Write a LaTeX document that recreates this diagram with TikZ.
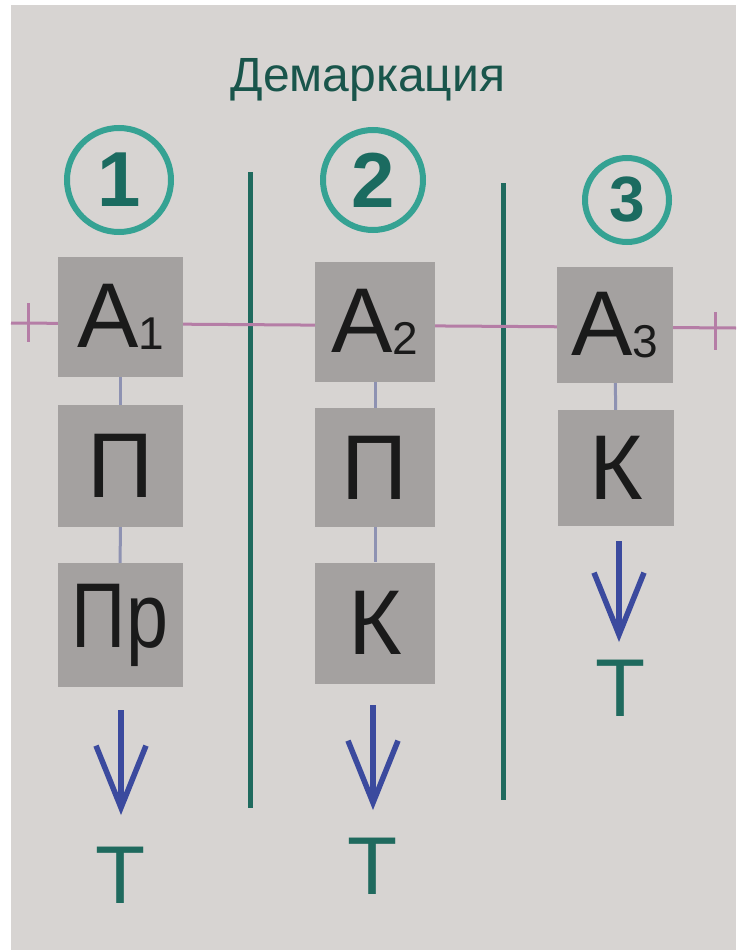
\documentclass[tikz,border=0pt]{standalone}
\usepackage{fontspec}
\setmainfont{Liberation Sans}
\usetikzlibrary{arrows.meta}
\definecolor{paper}{HTML}{D7D4D2}
\definecolor{boxgray}{HTML}{A4A1A0}
\definecolor{teal1}{HTML}{1F6A5E}
\definecolor{tealc}{HTML}{35A293}
\definecolor{tealn}{HTML}{1B6B60}
\definecolor{pinkl}{HTML}{B57DA6}
\definecolor{linkc}{HTML}{8E92B2}
\definecolor{arrowc}{HTML}{3B4A9E}
\definecolor{ink}{HTML}{1A1A1A}
\tikzset{
  letterbox/.style={fill=boxgray, draw=none, inner sep=0pt, text=ink,
    font=\fontsize{92}{92}\selectfont},
  numcircle/.style={circle, draw=tealc, line width=6pt, text=tealn,
    font=\fontsize{78}{78}\selectfont\bfseries, inner sep=0pt},
  divider/.style={draw=teal1, line width=5pt},
  pinkline/.style={draw=pinkl, line width=3pt},
  link/.style={draw=linkc, line width=3pt},
  flow/.style={draw=arrowc, line width=5.5pt, -{Straight Barb[length=62pt, width=50pt, line width=5.5pt]}},
  tlabel/.style={text=teal1, font=\fontsize{82}{82}\selectfont, inner sep=0pt},
}
\begin{document}
\begin{tikzpicture}[x=1pt, y=-1pt]
\useasboundingbox (0,0) rectangle (736,950);
\fill[white] (0,0) rectangle (736,950);
\fill[paper] (11,5) rectangle (736,950);

% title
\node[text=teal1!80!black, font=\fontsize{48}{48}\selectfont] (title) at (368,80) {Демаркация};

% numbers
\node[numcircle, minimum size=104pt] (c1) at (119,180) {1};
\node[numcircle, minimum size=100pt] (c2) at (373,180) {2};
\node[numcircle, minimum size=84pt, font=\fontsize{64}{64}\selectfont\bfseries] (c3) at (627,200) {3};

% dividers
\coordinate (v1t) at (250,172);
\coordinate (v1b) at (250,808);
\coordinate (v2t) at (503,183);
\coordinate (v2b) at (503,800);
\draw[divider] (v1t) -- (v1b);
\draw[divider] (v2t) -- (v2b);

% pink line
\coordinate (pl) at (11,323);
\coordinate (pr) at (736,328);
\draw[pinkline] (pl) -- (pr);
\coordinate (tl1) at (28,303);
\coordinate (tl2) at (28,342);
\coordinate (tr1) at (715,312);
\coordinate (tr2) at (715,350);
\draw[pinkline] (tl1) -- (tl2);
\draw[pinkline] (tr1) -- (tr2);

% column 1
\node[letterbox, minimum width=125pt, minimum height=120pt] (a1) at (120.5,317) {А\raisebox{-2pt}{\fontsize{46}{46}\selectfont 1}};
\node[letterbox, minimum width=125pt, minimum height=122pt] (p1) at (120.5,466) {П};
\node[letterbox, minimum width=125pt, minimum height=124pt] (pr1) at (120,625) {\scalebox{0.82}[1]{Пр}};
% column 2
\node[letterbox, minimum width=120pt, minimum height=120pt] (a2) at (375,322) {А\raisebox{-2pt}{\fontsize{46}{46}\selectfont 2}};
\node[letterbox, minimum width=120pt, minimum height=119pt] (p2) at (375,467.5) {П};
\node[letterbox, minimum width=120pt, minimum height=121pt] (k2) at (375,623) {К};
% column 3
\node[letterbox, minimum width=116pt, minimum height=116pt] (a3) at (615,325) {А\raisebox{-2pt}{\fontsize{46}{46}\selectfont 3}};
\node[letterbox, minimum width=116pt, minimum height=116pt] (k3) at (616,468) {К};

% links
\draw[link] (a1) -- (p1);
\draw[link] (p1) -- (pr1);
\draw[link] (a2) -- (p2);
\draw[link] (p2) -- (k2);
\draw[link] (a3) -- (k3);

% arrows and T
\node[tlabel] (t1) at (121,875) {Т};
\node[tlabel] (t2) at (373,866) {Т};
\node[tlabel] (t3) at (621,688) {Т};
\coordinate (f1) at (121,710);
\coordinate (f2) at (373,705);
\coordinate (f3) at (619,541);
\coordinate (e1) at (121,815);
\coordinate (e2) at (373,810);
\coordinate (e3) at (619,642);
\draw[flow] (f1) -- (e1);
\draw[flow] (f2) -- (e2);
\draw[flow] (f3) -- (e3);
\end{tikzpicture}
\end{document}
